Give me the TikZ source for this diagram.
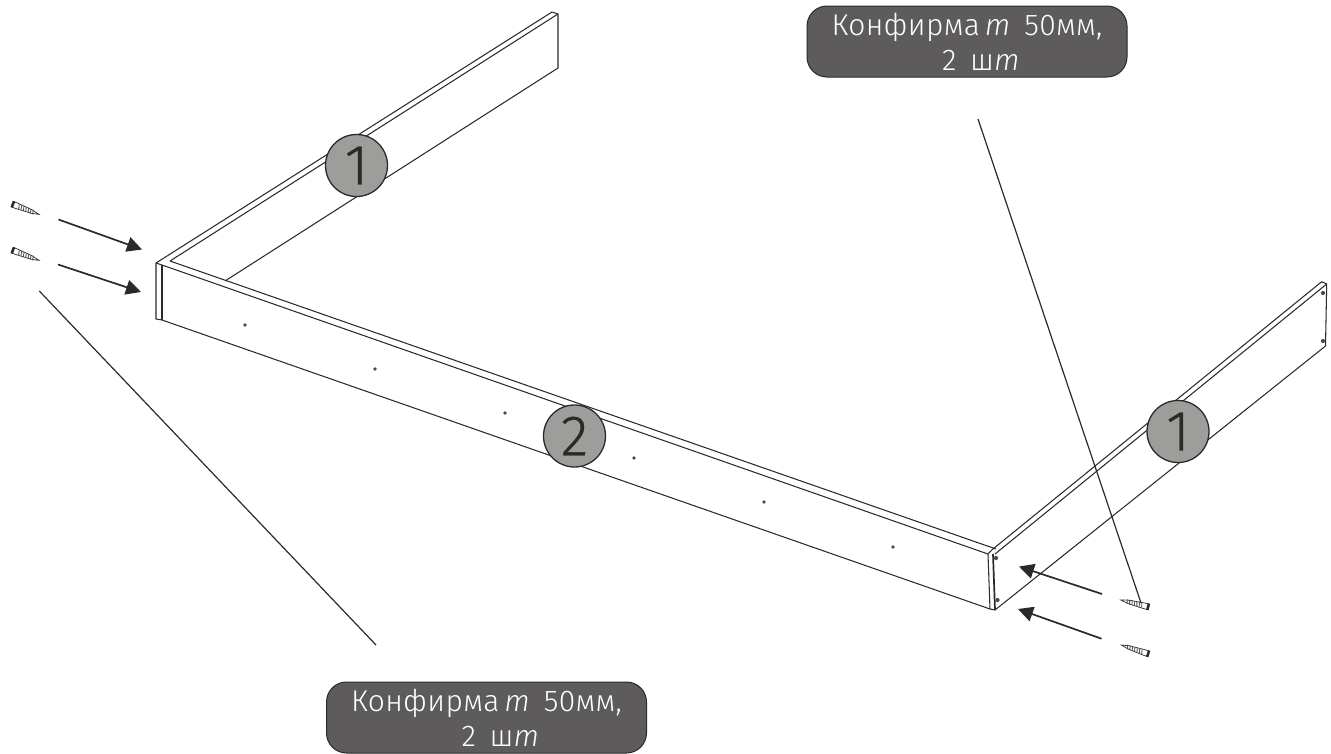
\documentclass[tikz,border=0pt]{standalone}
\usepackage{fontspec}
\setmainfont{Fira Sans}[UprightFont=* Light,ItalicFont=* Light Italic,LetterSpace=1]
\newfontfamily\digitfont{Fira Sans Light}[FakeBold=0.5]
\usetikzlibrary{arrows.meta}
\definecolor{ink}{HTML}{2B2A29}
\definecolor{boxgray}{HTML}{5D5B5C}
\definecolor{discgray}{HTML}{9D9D9C}
\tikzset{
  x=1pt,y=-1pt,
  edge/.style={draw=ink,line width=1.05pt,line join=round},
  heavyedge/.style={draw=ink,line width=1.7pt},
  hole/.style={fill=ink!85,draw=none},
  leader/.style={draw=ink,line width=1.2pt},
  pusharrow/.style={draw=ink,line width=1.7pt,-{Triangle[length=15pt,width=15pt]}},
  disc/.style={circle,draw=ink,line width=1.3pt,fill=discgray,minimum size=62pt,inner sep=0pt,text=ink,font=\digitfont\fontsize{57}{57}\selectfont},
  labelbox/.style={rounded corners=20pt,draw=ink,line width=1pt,fill=boxgray,text=white,minimum width=320pt,minimum height=71pt,inner sep=0pt,align=center,font=\fontsize{30}{35}\selectfont},
  screwpic/.pic={
    \fill[white,draw=ink,line width=0.7pt] (0,-3) -- (6,-2.8) -- (21,-1.8) -- (29,0) -- (21,1.8) -- (6,2.8) -- (0,3) -- cycle;
    \fill[ink] (0,-3.2) rectangle (2.2,3.2);
    \foreach \p in {7,9.5,12,14.5,17,19.5,22}{\draw[ink!80,line width=0.9pt] (\p,-2.3) -- (\p+1,2.3);}
  }
}
\begin{document}
\begin{tikzpicture}
\useasboundingbox (0,0) rectangle (1331,753);
% panel 1, left
\draw[edge] (156,263) -- (552,12) -- (558,14) -- (558,68) -- (225,281);
\draw[edge] (170,261) -- (558,14);
% panel 2
\draw[edge] (156,263) -- (162,265) -- (988,554);
\draw[edge] (170,261) -- (996,549);
\draw[edge] (156,263) -- (156,319) -- (162,320) -- (990,609) -- (995,610);
\draw[heavyedge] (162,265) -- (162,320);
\foreach \dx/\dy in {245/325,375/369,505/413,634/458,764/502,893/547}{\fill[hole] (\dx,\dy) circle (1.8);}
% panel 1, right
\draw[edge] (988,554) -- (991.7,550) -- (1321.7,281.7) -- (1326.7,284) -- (1325.5,346) -- (995,610);
\draw[edge] (995,554) -- (1326.7,284);
\draw[edge] (988,554) -- (990,609);
\draw[heavyedge] (993,554) -- (995,610);
\foreach \dx/\dy in {996/558,997.5/600,1323/293,1323/341}{\fill[hole] (\dx,\dy) circle (2.1);}
% arrows
\coordinate (a1s) at (58.5,219.5); \coordinate (a1e) at (142,249.5);
\coordinate (a2s) at (58,264.5);   \coordinate (a2e) at (141,292);
\coordinate (a3s) at (1102,594);   \coordinate (a3e) at (1019,566.5);
\coordinate (a4s) at (1101.5,638.7); \coordinate (a4e) at (1018,609);
\draw[pusharrow] (a1s) -- (a1e);
\draw[pusharrow] (a2s) -- (a2e);
\draw[pusharrow] (a3s) -- (a3e);
\draw[pusharrow] (a4s) -- (a4e);
% screws
\pic[shift={(12,204)},rotate=-21] {screwpic};
\pic[shift={(12,250)},rotate=-21] {screwpic};
\pic[shift={(1149,607)},rotate=166] {screwpic};
\pic[shift={(1149,654)},rotate=162] {screwpic};
% labels and leaders
\node[labelbox] (lbltop) at (967,41.5) {Конфирма\,\textit{т}\, 50мм,\\\hspace*{28pt}2\, ш\textit{т}};
\node[labelbox] (lblbot) at (486.5,717.5) {Конфирма\,\textit{т}\, 50мм,\\\hspace*{28pt}2\, ш\textit{т}};
\coordinate (lt) at (978,119); \coordinate (lte) at (1141,603);
\coordinate (lb) at (39.3,291); \coordinate (lbe) at (376,645);
\draw[leader] (lt) -- (lte);
\draw[leader] (lb) -- (lbe);
% part numbers
\node[disc] (n1) at (356.5,165.5) {1};
\node[disc] (n2) at (574.5,436) {2};
\node[disc] (n3) at (1178,431.5) {1};
\end{tikzpicture}
\end{document}
